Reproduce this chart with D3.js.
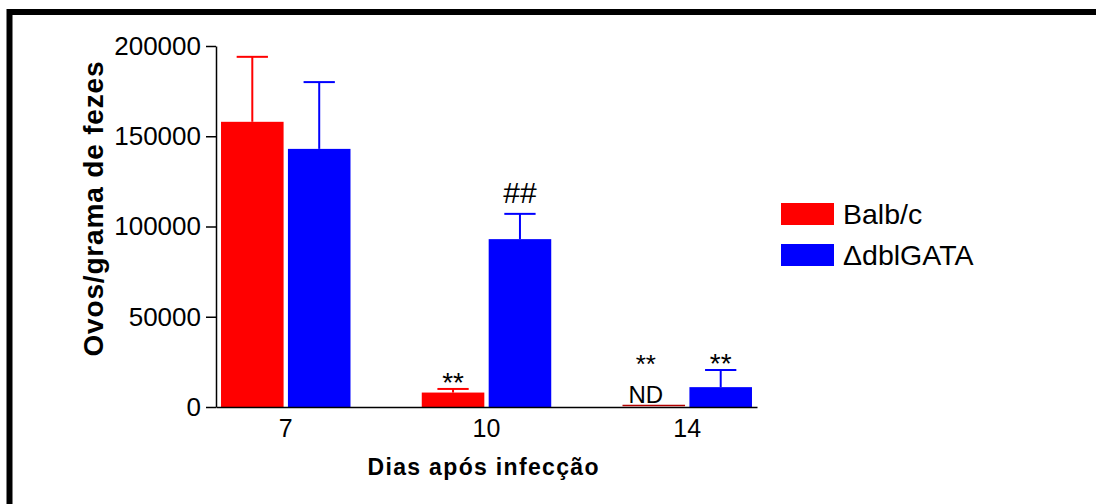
<!DOCTYPE html>
<html>
<head>
<meta charset="utf-8">
<script src="https://cdn.jsdelivr.net/npm/d3@7"></script>
<style>
  body { margin: 0; background: #fff; }
  svg { display: block; font-family: Arial, "Liberation Sans", sans-serif; }
</style>
</head>
<body>
<script>
(function () {

    var w = 1096;
    var h = 504;

    var days = ["7", "10", "14"];
    var groups = ["Balb/c", "\u0394dblGATA"];
    var balbMean = [158000, 8000, 0];
    var balbErr = [36000, 2000, 0];
    var dblMean = [143000, 93000, 11000];
    var dblErr = [37000, 14000, 9500];
    var yTicks = [0, 50000, 100000, 150000, 200000];
    // significance marks: [day, group, label]
    var marks = [
        ["10", "Balb/c", "**"],
        ["10", "\u0394dblGATA", "##"],
        ["14", "Balb/c", "**"],
        ["14", "\u0394dblGATA", "**"]
    ];
    var colors = ["#ff0000", "#0000ff"];

    var rows = [];
    days.forEach(function (d, i) {
        rows.push({ day: d, group: groups[0], mean: balbMean[i], err: balbErr[i], color: colors[0] });
        rows.push({ day: d, group: groups[1], mean: dblMean[i], err: dblErr[i], color: colors[1] });
    });
    function findRow(day, group) {
        return rows.filter(function (r) { return r.day === day && r.group === group; })[0];
    }

    var svg = d3.select("body").append("svg")
        .attr("width", w)
        .attr("height", h);

    // outer frame (right / bottom edges fall outside the picture)
    svg.append("rect")
        .attr("x", 9.5).attr("y", 12)
        .attr("width", 2000).attr("height", 2000)
        .attr("fill", "none")
        .attr("stroke", "#000")
        .attr("stroke-width", 6);

    var x = d3.scaleBand().domain(days).range([216, 757])
        .paddingInner(0.355).paddingOuter(0.025);
    var xs = d3.scaleBand().domain(groups).range([0, x.bandwidth()])
        .paddingInner(0.065);
    var y = d3.scaleLinear().domain([0, 200000]).range([407, 46]);

    // bars
    svg.selectAll("rect.bar")
        .data(rows)
        .enter()
        .append("rect")
        .attr("class", "bar")
        .attr("x", function (d) { return x(d.day) + xs(d.group); })
        .attr("y", function (d) { return y(d.mean); })
        .attr("width", xs.bandwidth())
        .attr("height", function (d) { return y(0) - y(d.mean); })
        .attr("fill", function (d) { return d.color; });

    // error bars (upper half only)
    var eb = svg.selectAll("g.err")
        .data(rows.filter(function (d) { return d.err > 0; }))
        .enter()
        .append("g")
        .attr("class", "err")
        .attr("stroke", function (d) { return d.color; })
        .attr("stroke-width", 2);
    eb.append("line")
        .attr("x1", function (d) { return x(d.day) + xs(d.group) + xs.bandwidth() / 2; })
        .attr("x2", function (d) { return x(d.day) + xs(d.group) + xs.bandwidth() / 2; })
        .attr("y1", function (d) { return y(d.mean); })
        .attr("y2", function (d) { return y(d.mean + d.err); });
    eb.append("line")
        .attr("x1", function (d) { return x(d.day) + xs(d.group) + xs.bandwidth() / 4; })
        .attr("x2", function (d) { return x(d.day) + xs(d.group) + xs.bandwidth() * 3 / 4; })
        .attr("y1", function (d) { return y(d.mean + d.err); })
        .attr("y2", function (d) { return y(d.mean + d.err); });

    // y axis
    var yAxis = svg.append("g")
        .attr("transform", "translate(216,0)")
        .call(d3.axisLeft(y).tickValues(yTicks).tickFormat(d3.format("d"))
            .tickSize(10).tickSizeOuter(0).tickPadding(5));
    yAxis.selectAll("path, line").attr("stroke", "#000").attr("stroke-width", 1.5);
    yAxis.selectAll("text")
        .attr("font-size", 26)
        .attr("font-family", "Arial, 'Liberation Sans', sans-serif")
        .attr("fill", "#000");

    // x axis
    var xAxis = svg.append("g")
        .attr("transform", "translate(0,407)")
        .call(d3.axisBottom(x).tickSize(0).tickSizeOuter(0).tickPadding(12));
    xAxis.select("path").attr("stroke", "#000").attr("stroke-width", 1.5);
    xAxis.selectAll("text")
        .attr("font-size", 25)
        .attr("font-family", "Arial, 'Liberation Sans', sans-serif")
        .attr("fill", "#000");

    // zero-height bars show as a thin dark line on the axis
    svg.selectAll("line.zero")
        .data(rows.filter(function (d) { return d.mean === 0; }))
        .enter()
        .append("line")
        .attr("class", "zero")
        .attr("x1", function (d) { return x(d.day) + xs(d.group); })
        .attr("x2", function (d) { return x(d.day) + xs(d.group) + xs.bandwidth(); })
        .attr("y1", y(0) - 1.5)
        .attr("y2", y(0) - 1.5)
        .attr("stroke", "#b00000")
        .attr("stroke-width", 1.5);

    // significance marks
    marks.forEach(function (m) {
        var r = findRow(m[0], m[1]);
        var cx = x(r.day) + xs(r.group) + xs.bandwidth() / 2;
        var top = y(r.mean + r.err);
        var star = m[2] === "**";
        if (r.mean === 0) {
            // "**" stacked over "ND"
            cx -= 8;
            svg.append("text")
                .text("ND")
                .attr("x", cx).attr("y", 403)
                .attr("text-anchor", "middle")
                .attr("font-size", 24);
            svg.append("text")
                .text(m[2])
                .attr("x", cx).attr("y", 373)
                .attr("text-anchor", "middle")
                .attr("font-size", 26);
            return;
        }
        svg.append("text")
            .text(m[2])
            .attr("x", cx)
            .attr("y", star ? top + 3 : top - 11)
            .attr("text-anchor", "middle")
            .attr("font-size", star ? 28 : 30);
    });

    // axis titles
    svg.append("text")
        .text("Dias após infecção")
        .attr("x", 483).attr("y", 475)
        .attr("text-anchor", "middle")
        .attr("font-weight", "bold")
        .attr("font-size", 23)
        .attr("textLength", 231)
        .attr("lengthAdjust", "spacing");

    svg.append("text")
        .text("Ovos/grama de fezes")
        .attr("transform", "translate(103,209) rotate(-90)")
        .attr("text-anchor", "middle")
        .attr("font-weight", "bold")
        .attr("font-size", 28)
        .attr("textLength", 295)
        .attr("lengthAdjust", "spacing");

    // legend
    var lg = svg.selectAll("g.legend")
        .data(groups)
        .enter()
        .append("g")
        .attr("class", "legend")
        .attr("transform", function (d, i) { return "translate(781," + (203 + i * 41) + ")"; });
    lg.append("rect")
        .attr("width", 53).attr("height", 22)
        .attr("fill", function (d, i) { return colors[i]; });
    lg.append("text")
        .text(function (d) { return d; })
        .attr("x", 62).attr("y", 20.5)
        .attr("font-size", 28.5);
})();
</script>
</body>
</html>
